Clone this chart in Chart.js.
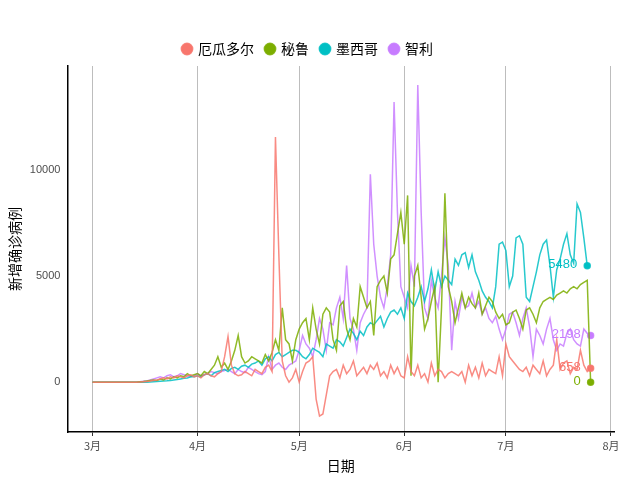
<!DOCTYPE html>
<html><head><meta charset="utf-8">
<script src="https://cdn.jsdelivr.net/npm/chart.js@4"></script>
<style>body{margin:0;background:#fff}#wrap{width:640px;height:480px}</style>
</head><body><div id="wrap"><canvas id="c"></canvas></div>
<script>
// dias desde el 1 de marzo
const monthTicks = [0, 31, 61, 92, 122, 153];
const monthLabels = ["3月", "4月", "5月", "6月", "7月", "8月"];
const yTicks = [0, 5000, 10000];
const seriesNames = ["厄瓜多尔", "秘鲁", "墨西哥", "智利"];
const colores = ["#F8766D", "#7CAE00", "#00BFC4", "#C77CFF"];

const ecuador = [0,0,0,0,0,0,0,0,0,0,0,0,0,0,
 10,20,30,50,80,100,150,200,150,250,200,300,250,200,300,350,250,
 300,200,350,400,300,250,400,500,1200,2150,800,400,300,350,500,400,300,600,500,400,700,800,500,11550,6000,1000,300,0,200,600,
 0,500,900,1000,1200,-800,-1600,-1500,-600,300,500,600,200,800,400,600,1000,300,500,700,400,800,600,900,300,500,200,800,400,700,300,
 200,1200,500,300,800,200,400,0,900,300,600,500,200,400,500,400,300,500,0,800,300,700,200,900,300,600,500,400,1200,300,
 1800,1200,1000,800,600,500,700,300,800,600,400,1000,300,600,800,2000,600,900,1000,400,700,600,1500,800,500,658];
const peru = [0,0,0,0,0,0,0,0,0,0,0,0,0,0,
 20,30,50,80,100,80,150,100,200,150,250,200,300,250,400,300,350,
 400,300,500,400,600,800,1200,700,900,600,1000,1500,2200,1200,900,1000,1200,1100,1000,900,1300,1000,1400,2000,1500,3500,2000,1800,1000,2000,
 2500,2800,3000,2000,3500,2500,1800,3200,3500,3300,2000,1500,3600,3800,2500,2000,3000,2600,4500,4000,3500,3800,2200,4500,4800,5000,4200,5800,6000,7000,8000,
 6500,8800,300,5000,5500,4000,2500,3000,3800,4500,0,3500,8900,4500,3800,2800,3500,4200,3500,4000,3700,3500,4200,3200,3600,4000,3800,3300,3000,3200,
 2700,2800,3300,3400,3000,2500,3400,3500,3200,2800,3500,3800,3900,4000,3900,4100,4200,4300,4200,4400,4500,4400,4600,4700,4800,0];
const mexico = [0,0,0,0,0,0,0,0,0,0,0,0,0,0,0,0,0,
 10,20,30,40,50,60,80,100,120,150,180,200,250,
 250,300,250,350,400,300,450,500,550,600,500,650,700,600,750,800,700,850,900,1000,800,1100,1200,1000,1300,1400,1200,1300,1400,1500,
 1500,1400,1200,1100,1300,1600,1500,1400,1200,1800,1700,1600,2000,1900,1700,2100,2500,2300,2000,2400,2200,2600,2800,2700,2900,3100,2600,3000,3300,3400,3200,
 3500,3000,4200,3800,3600,4000,4500,3800,4400,5300,4300,5200,4500,5000,4800,4600,5800,5500,6000,6100,5400,6000,5200,4800,4300,4000,3800,3500,4500,6500,
 6600,6200,4500,5000,6800,6900,6500,4000,3800,4500,5200,6000,6500,6700,5500,4000,5300,5800,6500,7000,6000,5600,8400,8000,6800,5480];
const chile = [0,0,0,0,0,0,0,0,0,0,0,0,0,0,
 20,40,60,100,150,200,250,200,300,350,250,300,400,350,300,250,300,
 400,300,350,400,500,450,400,500,550,600,500,400,600,500,450,700,600,500,400,350,500,1200,600,800,900,700,600,800,900,1000,
 1500,2200,1800,1600,1200,2000,3000,2500,1500,2800,2700,3500,4000,3000,5500,3000,2500,1500,2800,3200,3500,9800,6500,5000,4000,3500,4500,6000,13200,8000,4500,
 4000,3500,5500,4500,14000,8000,3500,3000,4800,4000,3500,5000,6800,5500,1500,3800,3000,4000,3500,3600,4200,3500,3800,3200,3500,3000,2800,3100,2500,2000,
 2500,3200,3300,2800,2200,3000,3500,2600,1200,2500,2200,1800,2500,3000,2000,1500,1800,1700,2300,2500,2000,1800,1700,2500,2300,2198];

const todos = [ecuador, peru, mexico, chile];
const fuente = "'Noto Sans CJK SC', sans-serif";
const fuenteNum = "'Liberation Sans', Arial, sans-serif";

const datasets = todos.map(function (serie, k) {
    return {
        label: seriesNames[k],
        data: serie.map(function (v, i) { return {x: i, y: v}; }),
        borderColor: colores[k] + 'D8',
        backgroundColor: colores[k],
        borderWidth: 1.5,
        showLine: true,
        pointStyle: 'circle',
        pointRadius: serie.map(function (v, i) { return i === serie.length - 1 ? 3 : 0; }),
        pointHoverRadius: 0
    };
});

// etiqueta del ultimo valor de cada serie
const etiquetaFinal = {
    id: 'etiquetaFinal',
    afterDatasetsDraw: function (chart) {
        const ctx = chart.ctx;
        ctx.save();
        ctx.font = "13px " + fuenteNum;
        ctx.textAlign = 'right';
        ctx.textBaseline = 'middle';
        chart.data.datasets.forEach(function (ds, k) {
            const pt = chart.getDatasetMeta(k).data[ds.data.length - 1];
            ctx.fillStyle = colores[k];
            ctx.fillText(String(ds.data[ds.data.length - 1].y), pt.x - 10, pt.y - 1);
        });
        ctx.restore();
    }
};

new Chart(document.getElementById('c'), {
    type: 'scatter',
    data: {datasets: datasets},
    plugins: [etiquetaFinal],
    options: {
        responsive: true,
        maintainAspectRatio: false,
        animation: false,
        layout: {padding: {top: 30, right: 26, left: 2, bottom: 2}},
        plugins: {
            tooltip: {enabled: false},
            legend: {
                position: 'top',
                afterFit: function (legend) { legend.height += 28; },
                labels: {
                    usePointStyle: true,
                    boxWidth: 8,
                    boxHeight: 8,
                    padding: 12,
                    color: '#000',
                    font: {family: fuente, size: 14}
                }
            }
        },
        scales: {
            x: {
                type: 'linear',
                min: -7.4,
                max: 153.9,
                afterBuildTicks: function (axis) {
                    axis.ticks = monthTicks.map(function (v) { return {value: v}; });
                },
                ticks: {
                    color: '#4d4d4d',
                    font: {family: fuente, size: 11},
                    callback: function (v) { return monthLabels[monthTicks.indexOf(v)]; }
                },
                grid: {color: '#bdbdbd', lineWidth: 1, drawTicks: true, tickLength: 4, tickColor: '#333'},
                border: {color: '#000', width: 1.5},
                title: {display: true, text: '日期', color: '#000', font: {family: fuente, size: 14}, padding: {top: 2}}
            },
            y: {
                min: -2350,
                max: 14900,
                afterBuildTicks: function (axis) {
                    axis.ticks = yTicks.map(function (v) { return {value: v}; });
                },
                ticks: {color: '#4d4d4d', font: {family: fuenteNum, size: 11}, callback: function (v) { return String(v); }},
                grid: {display: false, drawTicks: true, tickLength: 4},
                border: {color: '#000', width: 1.5},
                title: {display: true, text: '新增确诊病例', color: '#000', font: {family: fuente, size: 14}}
            }
        }
    }
});
</script>
</body></html>
